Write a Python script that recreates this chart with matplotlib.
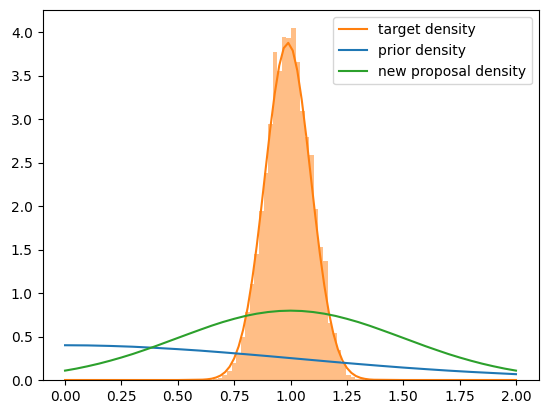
import numpy as np
import matplotlib
matplotlib.use("Agg")
import matplotlib.pyplot as plt

# histogram of samples (bin edges + density heights)
bin_edges = [0.657, 0.678, 0.698, 0.718, 0.739, 0.759, 0.779, 0.800, 0.820,
             0.840, 0.860, 0.881, 0.901, 0.921, 0.942, 0.962, 0.982, 1.002,
             1.023, 1.043, 1.063, 1.084, 1.104, 1.124, 1.145, 1.165, 1.185,
             1.206, 1.226, 1.246, 1.267, 1.287, 1.307, 1.328]
hist_heights = [0.01, 0.02, 0.06, 0.10, 0.19, 0.31, 0.50, 0.78, 1.11, 1.45,
                1.94, 2.38, 2.94, 3.77, 3.55, 3.95, 3.94, 4.05, 3.66, 3.09,
                2.80, 2.59, 1.97, 1.53, 1.37, 0.66, 0.54, 0.34, 0.19, 0.06,
                0.03, 0.01, 0.01]

# target density curve
target_x = [0.0, 0.5, 0.61, 0.63, 0.65, 0.67, 0.69, 0.71, 0.73, 0.75, 0.77,
            0.79, 0.81, 0.83, 0.85, 0.87, 0.89, 0.91, 0.93, 0.95, 0.97, 0.99,
            1.01, 1.03, 1.05, 1.07, 1.09, 1.11, 1.13, 1.15, 1.17, 1.19, 1.21,
            1.23, 1.25, 1.27, 1.29, 1.31, 1.33, 1.35, 1.37, 1.5, 2.0]
target_y = [0.0, 0.0, 0.004, 0.008, 0.015, 0.029, 0.052, 0.091, 0.153, 0.248,
            0.387, 0.579, 0.833, 1.155, 1.539, 1.973, 2.434, 2.888, 3.295,
            3.617, 3.819, 3.879, 3.790, 3.562, 3.220, 2.800, 2.342, 1.884,
            1.458, 1.086, 0.778, 0.535, 0.355, 0.226, 0.139, 0.082, 0.046,
            0.025, 0.013, 0.006, 0.003, 0.0, 0.0]

# prior curve
prior_x = [0.0, 0.1, 0.2, 0.3, 0.4, 0.5, 0.6, 0.7, 0.8, 0.9, 1.0,
           1.1, 1.2, 1.3, 1.4, 1.5, 1.6, 1.7, 1.8, 1.9, 2.0]
prior_y = [0.400, 0.398, 0.392, 0.383, 0.370, 0.355, 0.338, 0.318, 0.297,
           0.275, 0.252, 0.229, 0.206, 0.184, 0.163, 0.143, 0.125, 0.108,
           0.093, 0.080, 0.067]

# new proposal curve
proposal_x = [0.0, 0.05, 0.1, 0.15, 0.2, 0.25, 0.3, 0.35, 0.4, 0.45, 0.5,
              0.55, 0.6, 0.65, 0.7, 0.75, 0.8, 0.85, 0.9, 0.95, 1.0,
              1.05, 1.1, 1.15, 1.2, 1.25, 1.3, 1.35, 1.4, 1.45, 1.5,
              1.55, 1.6, 1.65, 1.7, 1.75, 1.8, 1.85, 1.9, 1.95, 2.0]
proposal_y = [0.108, 0.131, 0.158, 0.188, 0.222, 0.259, 0.299, 0.343, 0.388,
              0.436, 0.484, 0.532, 0.579, 0.625, 0.667, 0.704, 0.737, 0.763,
              0.782, 0.794, 0.798, 0.794, 0.782, 0.763, 0.737, 0.704, 0.667,
              0.625, 0.579, 0.532, 0.484, 0.436, 0.388, 0.343, 0.299, 0.259,
              0.222, 0.188, 0.158, 0.131, 0.108]

fig = plt.figure(figsize=(5.47, 4.13), dpi=100)
ax = fig.add_axes([0.0777, 0.0799, 0.9068, 0.8949])

centers = (np.array(bin_edges[:-1]) + np.array(bin_edges[1:])) / 2
ax.hist(centers, bins=bin_edges, weights=hist_heights, color="C1", alpha=0.5)

ax.plot(target_x, target_y, color="C1", label="target density")
ax.plot(prior_x, prior_y, color="C0", label="prior density")
ax.plot(proposal_x, proposal_y, color="C2", label="new proposal density")
ax.legend(loc="upper right")

fig.savefig("out.png")
